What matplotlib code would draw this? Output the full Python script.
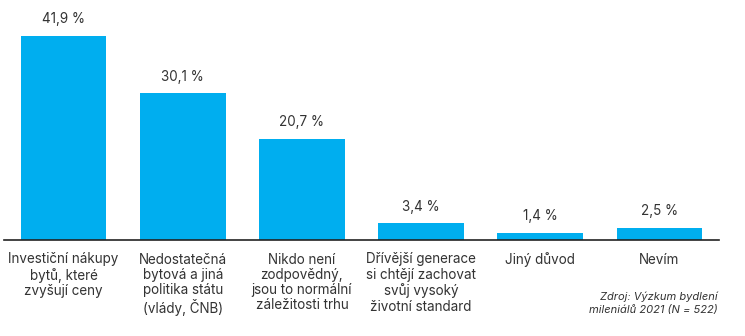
import matplotlib
matplotlib.use("Agg")
import matplotlib.pyplot as plt

categories = [
    "Investiční nákupy\nbytů, které\nzvyšují ceny",
    "Nedostatečná\nbytová a jiná\npolitika státu\n(vlády, ČNB)",
    "Nikdo není\nzodpovědný,\njsou to normální\nzáležitosti trhu",
    "Dřívější generace\nsi chtějí zachovat\nsvůj vysoký\nživotní standard",
    "Jiný důvod",
    "Nevím",
]
values = [41.9, 30.1, 20.7, 3.4, 1.4, 2.5]
value_labels = ["41,9 %", "30,1 %", "20,7 %", "3,4 %", "1,4 %", "2,5 %"]
source = "Zdroj: Výzkum bydlení\nmileniálů 2021 (N = 522)"

plt.rcParams['font.family'] = ['Inter', 'DejaVu Sans']
W, H = 745, 336
fig = plt.figure(figsize=(W/100, H/100), dpi=100)
ax = fig.add_axes([4/W, (H-240)/H, (719-4)/W, 240/H])
x = list(range(len(values)))
ax.bar(x, values, width=0.72, color="#00AEEF")
ax.set_xlim(-0.5, 5.5)
ax.set_ylim(0, 240/4.87)
for xi, v, lab in zip(x, values, value_labels):
    ax.annotate(lab, (xi, v), xytext=(0, 7), textcoords="offset points",
                ha="center", va="bottom", fontsize=9.7, color="#333333")
for s in ["top", "right", "left"]:
    ax.spines[s].set_visible(False)
ax.spines["bottom"].set_color("#222222")
ax.spines["bottom"].set_linewidth(1.2)
ax.set_yticks([])
ax.set_xticks(x)
ax.set_xticklabels(categories, fontsize=9.7, color="#333333", linespacing=1.12)
ax.tick_params(axis="x", length=0, pad=9)
fig.text(718/W, 1-291/H, source, ha="right", va="top", fontsize=8,
         style="italic", color="#333333", linespacing=1.5)
fig.savefig("out.png", dpi=100)
